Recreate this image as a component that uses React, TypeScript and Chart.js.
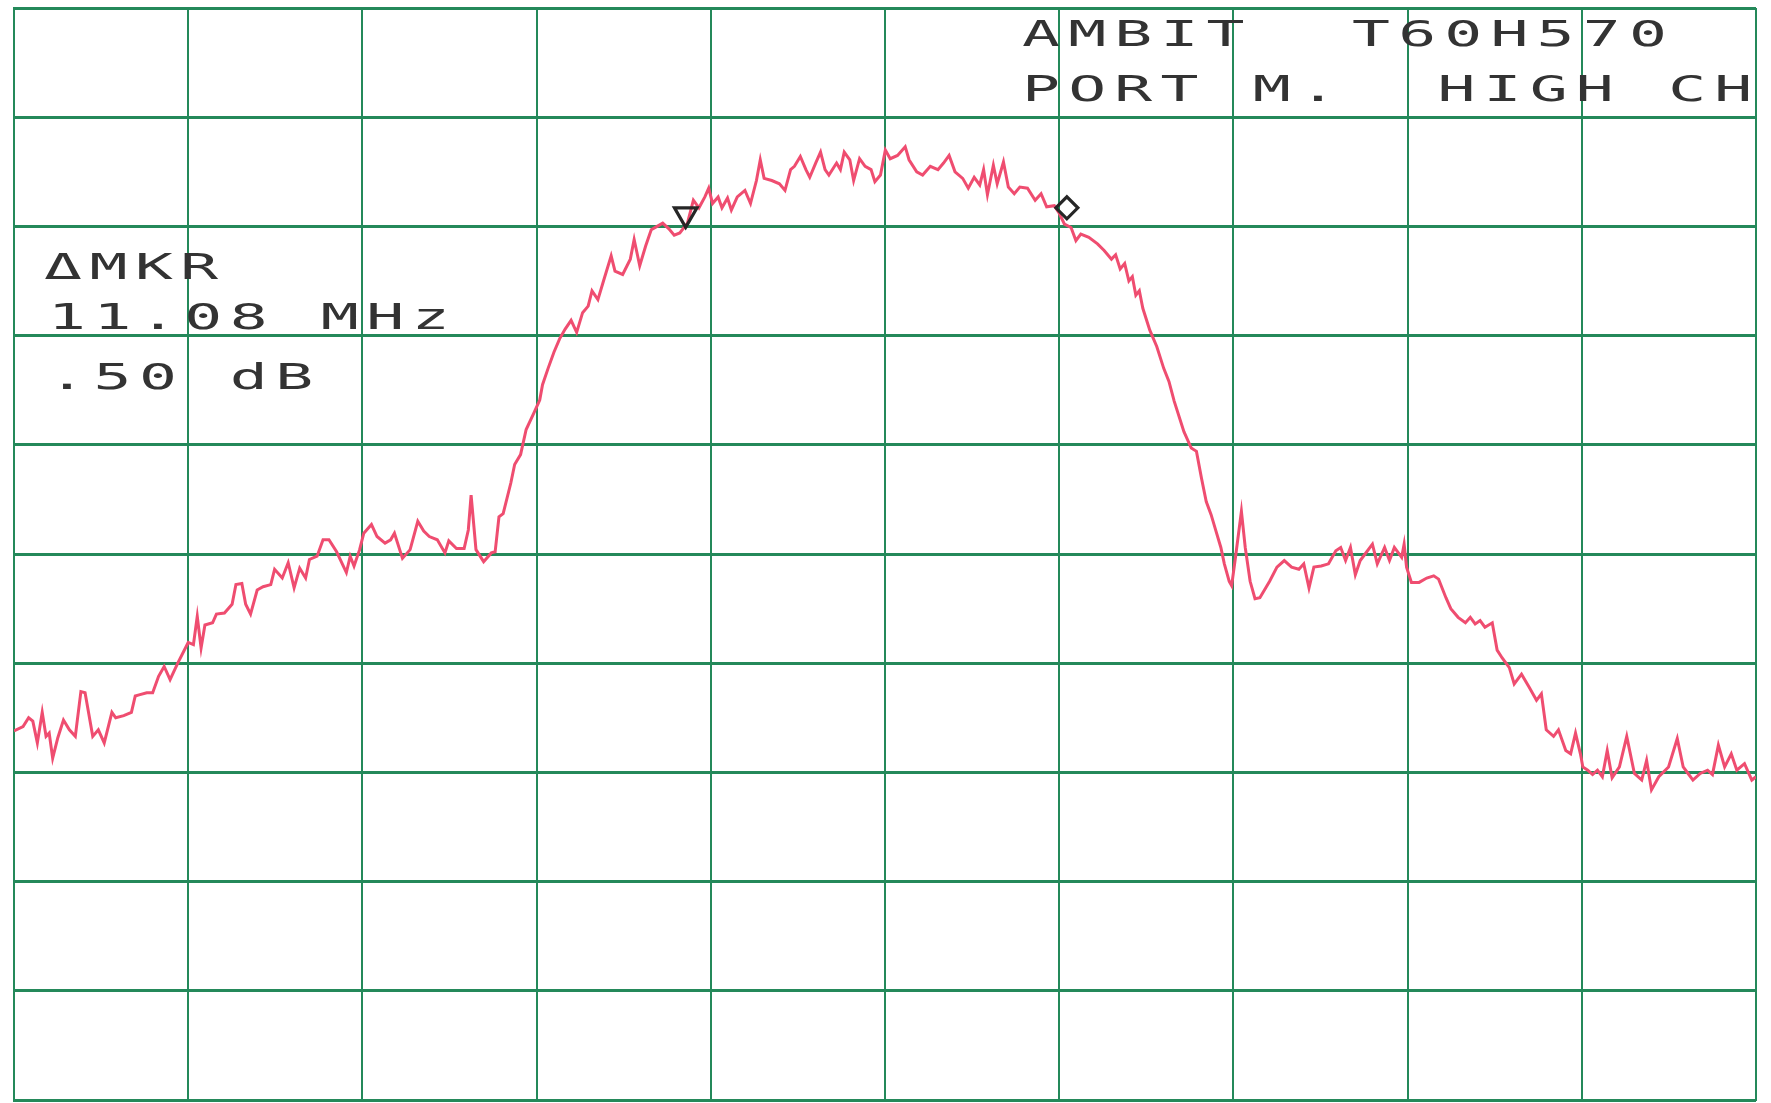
import { useEffect, useRef } from "react";
import { Chart, registerables } from "chart.js";

Chart.register(...registerables);

// Spectrum analyzer trace: frequency offset from span start (MHz, 5 MHz/div) and level (dB, 10 dB/div, ref 0 dB at top)
const freqMHz: number[] = [
  0.0, 0.26, 0.42, 0.54, 0.67, 0.81, 0.92, 1.01, 1.11, 1.26, 1.42, 1.59, 1.76, 1.92, 2.04, 2.26, 2.42, 2.59, 2.81, 2.92, 3.15, 3.37, 3.48, 3.59, 3.81, 3.98, 4.15, 4.31, 4.48, 4.7,
  5.0, 5.15, 5.26, 5.37, 5.48, 5.7, 5.81, 6.04, 6.26, 6.37, 6.54, 6.65, 6.79, 6.98, 7.15, 7.37, 7.48, 7.7, 7.87, 8.04, 8.2, 8.37, 8.48, 8.7, 8.87, 9.04, 9.26, 9.54, 9.65, 9.76, 9.92,
  10.04, 10.26, 10.42, 10.65, 10.81, 10.92, 11.15, 11.37, 11.59, 11.76, 11.92, 12.15, 12.37, 12.48, 12.7, 12.92, 13.04, 13.12, 13.26, 13.48, 13.7, 13.81, 13.92, 14.04, 14.26, 14.37, 14.54, 14.7, 14.92, 15.09,
  15.17, 15.33, 15.5, 15.66, 15.82, 15.99, 16.15, 16.32, 16.48, 16.59, 16.76, 16.92, 17.14, 17.25, 17.47, 17.69, 17.8, 17.96, 18.13, 18.29, 18.46, 18.62, 18.79, 18.95, 19.11, 19.33, 19.5, 19.66, 19.83, 19.94,
  20.05, 20.21, 20.32, 20.48, 20.59, 20.76, 20.98, 21.14, 21.31, 21.42, 21.53, 21.75, 21.97, 22.13, 22.29, 22.4, 22.57, 22.73, 22.84, 23.01, 23.15, 23.28, 23.39, 23.61, 23.72, 23.83, 23.99, 24.1, 24.27, 24.43, 24.6, 24.71, 24.87,
  25.01, 25.15, 25.36, 25.58, 25.69, 25.91, 26.08, 26.3, 26.52, 26.68, 26.84, 27.01, 27.23, 27.39, 27.56, 27.72, 27.83, 27.94, 28.11, 28.22, 28.4, 28.54, 28.71, 28.87, 29.09, 29.31, 29.48, 29.64, 29.86,
  30.0, 30.15, 30.34, 30.48, 30.62, 30.85, 31.1, 31.29, 31.5, 31.62, 31.75, 31.88, 32.0, 32.1, 32.2, 32.3, 32.4, 32.6, 32.8, 33.0, 33.15, 33.3, 33.58, 33.79, 33.94, 34.08, 34.22, 34.36, 34.5, 34.64, 34.74, 34.88, 34.95,
  35.06, 35.23, 35.34, 35.48, 35.62, 35.76, 36.04, 36.25, 36.46, 36.67, 36.88, 37.02, 37.17, 37.31, 37.52, 37.73, 37.94, 38.08, 38.22, 38.36, 38.5, 38.64, 38.78, 38.99, 39.13, 39.34, 39.48, 39.62, 39.83, 39.9, 39.97,
  40.11, 40.33, 40.55, 40.75, 40.89, 41.1, 41.24, 41.45, 41.66, 41.8, 41.94, 42.08, 42.22, 42.43, 42.57, 42.71, 42.92, 43.06, 43.27, 43.49, 43.7, 43.84, 43.98, 44.19, 44.33, 44.54, 44.68, 44.82, 44.96,
  45.03, 45.17, 45.31, 45.45, 45.59, 45.73, 45.87, 46.08, 46.29, 46.51, 46.72, 46.86, 47.0, 47.21, 47.49, 47.74, 47.91, 48.05, 48.19, 48.4, 48.61, 48.75, 48.92, 49.1, 49.29, 49.45, 49.67, 49.88, 50.0,
];

const levelDb: number[] = [
  -66.2, -65.8, -65.0, -65.3, -67.3, -64.5, -66.7, -66.4, -68.7, -66.8, -65.2, -66.1, -66.7, -62.6, -62.7, -66.7, -66.1, -67.3, -64.5, -65.0, -64.8, -64.5, -63.0, -62.9, -62.7, -62.7, -61.2, -60.3, -61.5, -60.0,
  -58.1, -58.3, -55.7, -58.6, -56.5, -56.3, -55.5, -55.4, -54.6, -52.8, -52.7, -54.6, -55.5, -53.3, -53.0, -52.8, -51.4, -52.2, -50.8, -53.1, -51.3, -52.2, -50.5, -50.2, -48.7, -48.7, -49.8, -51.7, -50.2, -51.1, -49.6,
  -48.1, -47.3, -48.4, -49.0, -48.7, -48.1, -50.4, -49.6, -47.0, -47.9, -48.4, -48.7, -49.9, -48.8, -49.5, -49.5, -47.8, -44.6, -49.6, -50.7, -49.9, -49.8, -46.6, -46.3, -43.5, -41.8, -40.9, -38.6, -37.1, -35.9,
  -34.5, -33.0, -31.5, -30.3, -29.4, -28.6, -29.7, -27.9, -27.3, -25.9, -26.7, -25.0, -22.7, -24.1, -24.4, -23.0, -21.2, -23.6, -21.8, -20.3, -20.0, -19.7, -20.2, -20.8, -20.6, -19.7, -17.6, -18.3, -17.3, -16.5,
  -17.9, -17.3, -18.3, -17.4, -18.5, -17.3, -16.7, -17.9, -15.8, -13.9, -15.6, -15.8, -16.1, -16.7, -14.8, -14.5, -13.6, -14.8, -15.5, -14.2, -13.2, -14.8, -15.3, -14.2, -14.8, -13.2, -13.9, -15.8, -13.8, -14.5, -14.8, -15.9, -15.3,
  -13.0, -13.8, -13.5, -12.7, -13.9, -15.0, -15.3, -14.5, -14.8, -14.2, -13.5, -15.0, -15.6, -16.5, -15.5, -16.2, -14.8, -17.1, -14.4, -16.1, -14.1, -16.4, -17.0, -16.4, -16.5, -17.6, -17.0, -18.2, -18.1,
  -18.8, -19.8, -20.1, -21.3, -20.7, -21.0, -21.6, -22.2, -23.0, -22.6, -23.9, -23.4, -25.0, -24.6, -26.3, -25.9, -27.5, -29.5, -31.0, -33.0, -34.2, -36.0, -38.8, -40.3, -40.6, -43.0, -45.2, -46.4, -47.9, -49.4, -50.9, -52.5, -52.9,
  -50.3, -46.1, -49.4, -52.5, -54.1, -54.0, -52.5, -51.2, -50.6, -51.2, -51.4, -50.9, -53.1, -51.2, -51.1, -50.9, -49.7, -49.4, -50.6, -49.4, -51.9, -50.6, -50.0, -49.1, -50.9, -49.4, -50.6, -49.4, -50.3, -49.1, -51.2,
  -52.6, -52.6, -52.2, -52.0, -52.3, -54.0, -55.0, -55.8, -56.3, -55.8, -56.4, -56.1, -56.7, -56.3, -58.8, -59.5, -60.4, -61.9, -61.0, -62.2, -63.4, -62.8, -66.1, -66.7, -66.1, -68.0, -68.3, -66.4, -68.3,
  -69.5, -69.8, -70.2, -69.8, -70.4, -68.0, -70.5, -69.5, -66.7, -70.1, -70.7, -68.9, -71.6, -70.4, -69.5, -66.9, -69.5, -70.1, -70.7, -70.1, -69.8, -70.2, -67.5, -69.5, -68.3, -69.8, -69.2, -70.7, -70.4,
];

// Markers: reference marker (triangle) and delta marker (diamond)
const markerFreqMHz: number[] = [19.28, 30.22];
const markerLevelDb: number[] = [-18.9, -18.3];

// Axis ranges (10 divisions each)
const spanStartMHz = 0;
const spanStopMHz = 50;
const mhzPerDiv = 5;
const bottomDb = -100;
const refLevelDb = 0;
const dbPerDiv = 10;

// Plotter annotations
const deltaLabel = "ΔMKR";
const deltaFreqText = "11.08 MHz";
const deltaLevelText = ".50 dB";
const titleWord1 = "AMBIT";
const titleWord2 = "T60H570";
const subtitleText = "PORT M.  HIGH CH";

const W = 1771;
const H = 1103;
const GRID = "#24895a";
const TRACE = "#ef4d70";
const INK = "#333333";

const textStyle: React.CSSProperties = {
  position: "absolute",
  fontFamily: "'DejaVu Sans Mono', 'Liberation Mono', monospace",
  fontSize: 36,
  lineHeight: 1,
  letterSpacing: "4.3px",
  whiteSpace: "pre",
  color: INK,
  transform: "scaleX(1.75)",
  transformOrigin: "left top",
  margin: 0,
};

const topTextStyle: React.CSSProperties = { ...textStyle, letterSpacing: "4.7px" };

export default function App() {
  const ref = useRef<HTMLCanvasElement>(null);

  useEffect(() => {
    document.body.style.margin = "0";
    const canvas = ref.current;
    if (!canvas) return;
    const trace = freqMHz.map((x, i) => ({ x, y: levelDb[i] }));
    const markers = markerFreqMHz.map((x, i) => ({ x, y: markerLevelDb[i] }));
    const chart = new Chart(canvas, {
      type: "scatter",
      data: {
        datasets: [
          {
            label: "markers",
            data: markers,
            showLine: false,
            pointStyle: ["triangle", "rectRot"] as any,
            pointRotation: [180, 0],
            pointRadius: [13, 11],
            pointBorderColor: "#262626",
            pointBackgroundColor: "rgba(0,0,0,0)",
            pointBorderWidth: 3.2,
            order: 1,
          } as any,
          {
            label: "trace",
            data: trace,
            showLine: true,
            borderColor: TRACE,
            borderWidth: 3,
            pointRadius: 0,
            tension: 0,
            order: 2,
          },
        ],
      },
      options: {
        responsive: false,
        animation: false,
        devicePixelRatio: 1,
        layout: { autoPadding: false, padding: { left: 14, top: 8, right: 15, bottom: 3 } },
        plugins: { legend: { display: false }, tooltip: { enabled: false } },
        scales: {
          x: {
            type: "linear",
            min: spanStartMHz,
            max: spanStopMHz,
            ticks: { display: false, stepSize: mhzPerDiv },
            grid: { color: GRID, lineWidth: 2, drawTicks: false },
            border: { display: true, color: GRID, width: 2 },
          },
          y: {
            type: "linear",
            min: bottomDb,
            max: refLevelDb,
            ticks: { display: false, stepSize: dbPerDiv },
            grid: { color: GRID, lineWidth: 3, drawTicks: false },
            border: { display: true, color: GRID, width: 2 },
          },
        },
      } as any,
    });
    return () => chart.destroy();
  }, []);

  return (
    <div style={{ position: "relative", width: W, height: H, overflow: "hidden", background: "#ffffff" }}>
      <canvas ref={ref} width={W} height={H} style={{ position: "absolute", left: 0, top: 0, width: W, height: H }} />
      <div style={{ ...topTextStyle, left: 1022, top: 16 }}>{titleWord1}</div>
      <div style={{ ...topTextStyle, left: 1352, top: 16 }}>{titleWord2}</div>
      <div style={{ ...topTextStyle, left: 1022, top: 71 }}>{subtitleText}</div>
      <div style={{ ...textStyle, left: 44, top: 249 }}>{deltaLabel}</div>
      <div style={{ ...textStyle, left: 48, top: 299 }}>{deltaFreqText}</div>
      <div style={{ ...textStyle, left: 48, top: 359 }}>{deltaLevelText}</div>
    </div>
  );
}
